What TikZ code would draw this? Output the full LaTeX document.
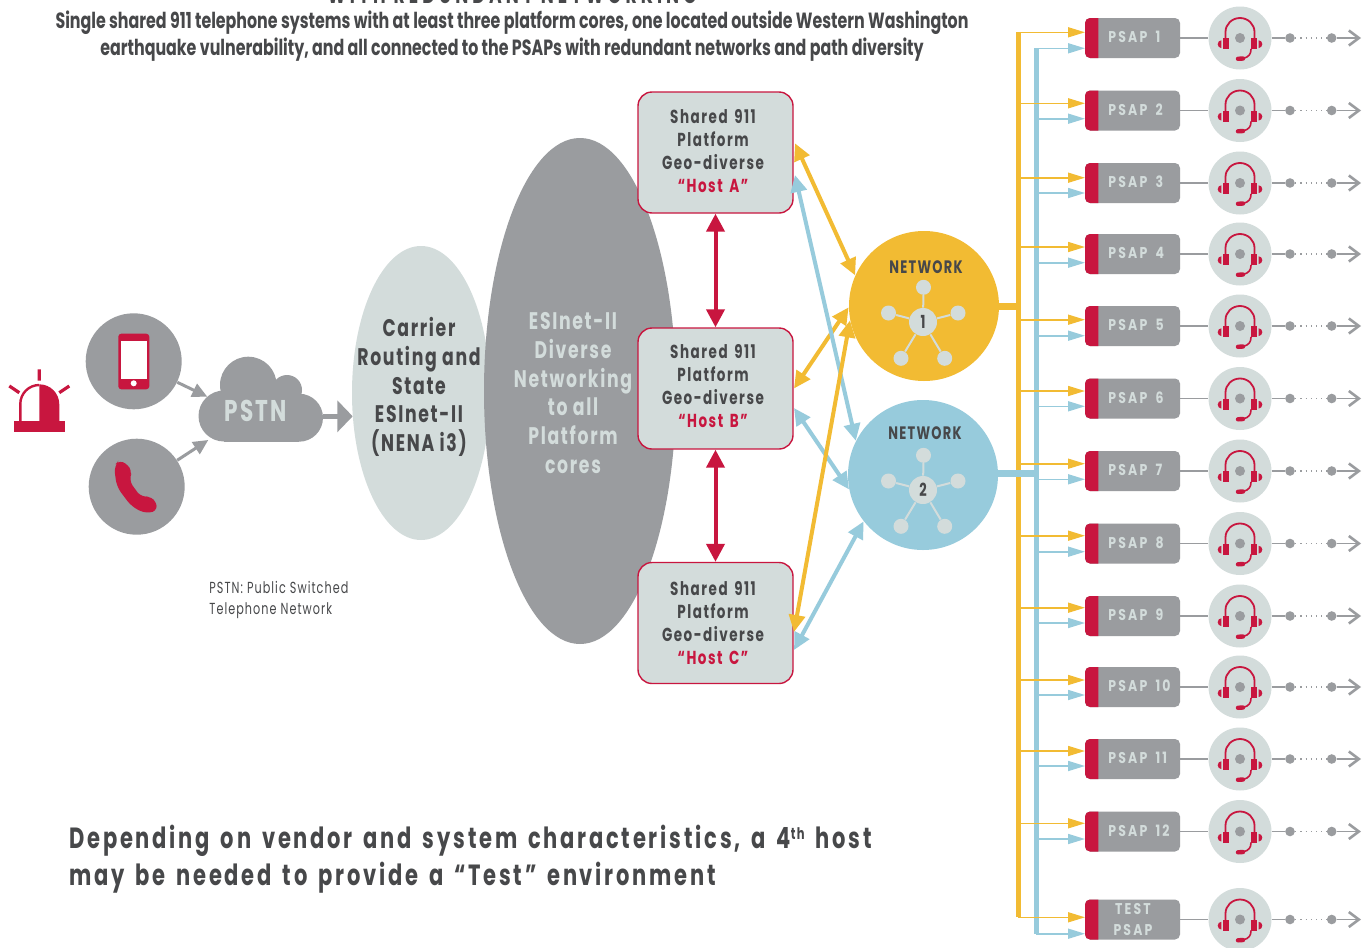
\documentclass[tikz,border=0pt]{standalone}
\usepackage{fontspec}
\usepackage{tikz}
\usetikzlibrary{arrows.meta,shapes.geometric}
\setmainfont{Poppins}
\newfontfamily\headfont[FakeStretch=0.72]{Poppins}
\newfontfamily\spacedfont[FakeStretch=0.72,LetterSpace=7]{Poppins}
\newfontfamily\hostfont[FakeStretch=0.72,LetterSpace=8,WordSpace=1.5]{Poppins}
\newfontfamily\remarkfont[FakeStretch=0.72,LetterSpace=9.5,WordSpace=1.5]{Poppins}
\newfontfamily\cutfont[FakeStretch=0.72,LetterSpace=17]{Poppins}
\newfontfamily\psapfont[FakeStretch=0.8,LetterSpace=14,WordSpace=1.7]{Poppins}
\newfontfamily\notefont[FakeStretch=0.7,LetterSpace=6.6]{Poppins}
\definecolor{crimson}{HTML}{C8163F}
\definecolor{slate}{HTML}{9A9C9F}
\definecolor{mist}{HTML}{D3DCDB}
\definecolor{amber}{HTML}{F2BB33}
\definecolor{sky}{HTML}{97CBDC}
\definecolor{ink}{HTML}{47484A}
\tikzset{
	headtext/.style={text=ink,font=\headfont\bfseries\fontsize{11}{13.5}\selectfont,align=center,inner sep=0},
	hostbox/.style={draw=crimson,line width=0.7pt,fill=mist,rounded corners=7pt,minimum width=77.5pt,minimum height=60.5pt,inner sep=0},
	hosttext/.style={align=center,inner sep=0,text=ink,font=\hostfont\bfseries\fontsize{9.4}{11.5}\selectfont},
	bigtext/.style={align=center,inner sep=0,font=\spacedfont\bfseries\fontsize{12}{14.4}\selectfont},
	netdisc/.style={circle,minimum size=75pt,inner sep=0},
	nettext/.style={text=ink,inner sep=0,font=\spacedfont\bfseries\fontsize{9}{10}\selectfont},
	hubdot/.style={circle,fill=mist,minimum size=#1,inner sep=0,text=ink,font=\headfont\bfseries\fontsize{9}{10}\selectfont},
	hubline/.style={draw=mist,line width=1pt},
	sourcedisc/.style={circle,fill=slate,minimum size=48pt,inner sep=0},
	grayarrow/.style={draw=slate,line width=1.5pt,-{Triangle[length=7.5pt,width=7pt]}},
	yellowlink/.style={draw=amber,line width=2pt,{Triangle[length=8.5pt,width=8pt]}-{Triangle[length=8.5pt,width=8pt]}},
	bluelink/.style={draw=sky,line width=2pt,{Triangle[length=8.5pt,width=8pt]}-{Triangle[length=8.5pt,width=8pt]}},
	redlink/.style={draw=crimson,line width=2pt,{Triangle[length=9pt,width=9pt]}-{Triangle[length=9pt,width=9pt]}},
	yellowtap/.style={draw=amber,line width=0.8pt,-{Triangle[length=8.5pt,width=5pt]}},
	bluetap/.style={draw=sky,line width=0.8pt,-{Triangle[length=8.5pt,width=5pt]}},
	psapbox/.style={fill=slate,rounded corners=2.5pt,minimum width=47.5pt,minimum height=20pt,inner sep=0},
	psaptext/.style={text=mist,inner sep=0,font=\psapfont\bfseries\fontsize{7.8}{10}\selectfont},
	headdisc/.style={circle,fill=mist,minimum size=31.5pt,inner sep=0},
	graydot/.style={circle,fill=slate,minimum size=4.8pt,inner sep=0},
	grayline/.style={draw=slate,line width=0.6pt},
	headset/.pic={
		\fill[slate] (0,0) circle (5);
		\draw[crimson,line width=0.9pt] (-14.5,1) -- (-14.5,-6) arc (180:360:14.5 and 14) -- (14.5,1);
		\fill[crimson] (-16.7,0) rectangle (-10.7,11.3);
		\fill[crimson] (10.7,0) rectangle (16.7,11.3);
		\fill[crimson] (-18.7,2.3) arc (270:90:3.6 and 3.85) -- cycle;
		\fill[crimson] (18.7,2.3) arc (-90:90:3.6 and 3.85) -- cycle;
		\draw[crimson,line width=0.8pt] (11,11) .. controls (11,16) and (9,19) .. (3,20.5);
		\draw[crimson,line width=2.2pt,line cap=round] (-2,20.8) -- (3,20.5);
	}
}

\begin{document}
\begin{tikzpicture}[x=0.5pt,y=-0.5pt]
	\clip (0,0) rectangle (1372,948);
	\fill[white] (0,0) rectangle (1372,948);

	% heading
	\node[text=ink,inner sep=0,font=\cutfont\bfseries\fontsize{12}{14}\selectfont] (cut) at (512,-5) {WITH REDUNDANT NETWORKING};
	\node[headtext] (head) at (512,36) {Single shared 911 telephone systems with at least three platform cores, one located outside Western Washington\\earthquake vulnerability, and all connected to the PSAPs with redundant networks and path diversity};

	% siren
	\fill[crimson] (14,421.3) rectangle (65,432.3);
	\draw[crimson,line width=1.2pt] (39.3,385) arc (270:180:19 and 19) -- (20.3,421);
	\fill[crimson] (39.3,384.3) arc (270:360:20 and 20) -- (59.3,421.5) -- (39.3,421.5) -- cycle;
	\draw[crimson,line width=1.6pt] (39.3,369.3) -- (39.3,380.7) (9.3,386) -- (19.3,392.7) (69.3,386) -- (59.3,392.7);

	% sources
	\node[sourcedisc] (mobile) at (133.7,361.3) {};
	\fill[crimson,rounded corners=1.5pt] (118.3,333.7) rectangle (149.3,389.3);
	\fill[white] (120.7,340.7) rectangle (146.7,378.7);
	\fill[white] (133.7,383.3) circle (3);
	\node[sourcedisc] (landline) at (136.7,486.7) {};
	\fill[crimson,rounded corners=3.5pt] (120,459) -- (133,470) -- (128.5,480) -- (141.7,498) -- (152,495.5) -- (159,509.5) -- (146.7,514) -- (131.7,506.7) -- (116.7,486.7) -- (114,466) -- cycle;

	% cloud
	\fill[slate] (224,416) circle (25.5);
	\fill[slate] (299,417.7) circle (24);
	\fill[slate] (248.3,385) circle (28.3);
	\fill[slate] (287,390) circle (15);
	\fill[slate] (224,395) rectangle (299,441.7);
	\node[text=mist,inner sep=0,font=\spacedfont\bfseries\fontsize{15}{18}\selectfont] (pstn) at (256,411) {PSTN};
	\coordinate (pstnA) at (207.3,396.7);
	\coordinate (pstnB) at (208.3,440);
	\coordinate (pstnC) at (322.7,416.3);
	\coordinate (carrierin) at (352.7,416.3);
	\draw[grayarrow] (mobile) -- (pstnA);
	\draw[grayarrow] (landline) -- (pstnB);
	\draw[draw=slate,line width=2.5pt,-{Triangle[length=7.7pt,width=15.5pt]}] (pstnC) -- (carrierin);

	\node[text=ink,inner sep=0,align=left,anchor=west,font=\notefont\fontsize{8}{10.5}\selectfont] (note) at (209,600) {PSTN: Public Switched\\Telephone Network};

	% ellipses
	\node[ellipse,fill=mist,minimum width=69pt,minimum height=147pt,inner sep=0] (carrier) at (421,393) {};
	\node[ellipse,fill=slate,minimum width=96pt,minimum height=253pt,inner sep=0] (esinet) at (580,391) {};
	\node[bigtext,text=ink] (carriertext) at (419,387) {Carrier\\Routing and\\State\\ESInet-II\\(NENA i3)};
	\node[bigtext,text=mist] (esinettext) at (573,393) {ESInet-II\\Diverse\\Networking\\to all\\Platform\\cores};

	% hosts
	\foreach \h/\yc/\yt in {A/152.5/151,B/388.5/386,C/623/623}{
		\node[hostbox] (host\h) at (715.5,\yc) {};
		\node[hosttext] (host\h text) at (713,\yt) {Shared 911\\Platform\\Geo-diverse\\\textcolor{crimson}{“Host \h”}};
	}
	\draw[redlink] (hostA) -- (hostB);
	\draw[redlink] (hostB) -- (hostC);

	% networks
	\node[netdisc,fill=amber] (netA) at (924,306) {};
	\node[netdisc,fill=sky] (netB) at (923,475) {};
	\node[nettext] (netAtext) at (926,267) {NETWORK};
	\node[nettext] (netBtext) at (925,433) {NETWORK};
	\foreach \net/\yy/\num in {A/0/1,B/168/2}{
		\node[hubdot=14pt] (hub\net) at (923,322+\yy) {\num};
		\node[hubdot=7.5pt] (hub\net a) at (923.5,287.3+\yy) {};
		\node[hubdot=7.5pt] (hub\net b) at (888.5,313+\yy) {};
		\node[hubdot=7.5pt] (hub\net c) at (958,313+\yy) {};
		\node[hubdot=7.5pt] (hub\net d) at (901,358.3+\yy) {};
		\node[hubdot=7.5pt] (hub\net e) at (944.7,358.3+\yy) {};
		\foreach \s in {a,b,c,d,e}
			\draw[hubline] (hub\net) -- (hub\net\s);
	}

	% host to network links
	\coordinate (aY) at (795,143.3);
	\coordinate (aB) at (795,175);
	\coordinate (bY) at (794,388.5);
	\coordinate (bB) at (794,408);
	\coordinate (cY) at (794,632);
	\coordinate (cB) at (794,650);
	\draw[yellowlink] (aY) -- (netA.156);
	\draw[yellowlink] (bY) -- (netA.181);
	\draw[bluelink] (aB) -- (netB.153);
	\draw[bluelink] (bB) -- (netB.191);
	\draw[bluelink] (cB) -- (netB.218);
	\draw[yellowlink] (cY) -- (netA.191);

	% buses
	\coordinate (busYtop) at (1018,32.3);
	\coordinate (busYend) at (1018,917.3);
	\coordinate (busBtop) at (1036,48.3);
	\coordinate (busBend) at (1036,933.7);
	\coordinate (netBout) at (998,473);
	\coordinate (busBin) at (1036,473);
	\coordinate (busYin) at (1018,306);
	\draw[draw=sky,line width=2.5pt,line join=round] (busBtop) -- (busBend);
	\draw[draw=amber,line width=2.5pt,line join=round] (busYtop) -- (busYend);
	\draw[draw=sky,line width=3.5pt] (netBout) -- (busBin);
	\draw[draw=amber,line width=3.5pt] (netA.east) -- (busYin);

	% psap rows
	\foreach \n/\yc/\ya/\yb/\txt in {1/38/32.3/48.3/PSAP 1,2/110.5/103.3/118.7/PSAP 2,3/183/177.7/193/PSAP 3,4/254/247/262.7/PSAP 4,5/326/319.7/335.7/PSAP 5,6/398.5/391/406.3/PSAP 6,7/471/463.7/479.3/PSAP 7,8/543.5/535.7/551.7/PSAP 8,9/616/607.7/623/PSAP 9,10/687/680/695/PSAP 10,11/759/751/766/PSAP 11,12/831.5/823.3/839/PSAP 12,13/919.5/917.3/933.7/}{
		\node[psapbox] (psap\n) at (1132.5,\yc) {};
		\fill[crimson] (1098.3,\yc-20) [rounded corners=2.5pt] -- (1085,\yc-20) -- (1085,\yc+20) [sharp corners] -- (1098.3,\yc+20) -- cycle;
		\node[psaptext,anchor=west] (label\n) at (1108,\yc-1) {\txt};
		\coordinate (yfrom\n) at (1018,\ya);
		\coordinate (yto\n) at (1085,\ya);
		\coordinate (bfrom\n) at (1036,\yb);
		\coordinate (bto\n) at (1085,\yb);
		\draw[yellowtap] (yfrom\n) -- (yto\n);
		\draw[bluetap] (bfrom\n) -- (bto\n);
		\node[headdisc] (desk\n) at (1240,\yc) {};
		\pic at (1240,\yc) {headset};
		\draw[grayline] (psap\n) -- (desk\n);
		\node[graydot] (dotA\n) at (1290,\yc) {};
		\node[graydot] (dotB\n) at (1331.7,\yc) {};
		\coordinate (out\n) at (1361,\yc);
		\draw[grayline] (desk\n) -- (dotA\n);
		\draw[grayline,dotted] (dotA\n) -- (dotB\n);
		\draw[grayline,-{Straight Barb[length=5pt,width=7.5pt,line width=1.3pt]}] (dotB\n) -- (out\n);
	}
	\node[psaptext] (testA) at (1133,909) {TEST};
	\node[psaptext] (testB) at (1133,930) {PSAP};

	% closing remark
	\node[text=ink,anchor=west,align=left,inner sep=0,font=\remarkfont\bfseries\fontsize{14.6}{18.5}\selectfont] (remark) at (69,859) {Depending on vendor and system characteristics, a 4\raisebox{4.5pt}{\fontsize{8}{8}\selectfont th} host\\may be needed to provide a “Test” environment};
\end{tikzpicture}
\end{document}
